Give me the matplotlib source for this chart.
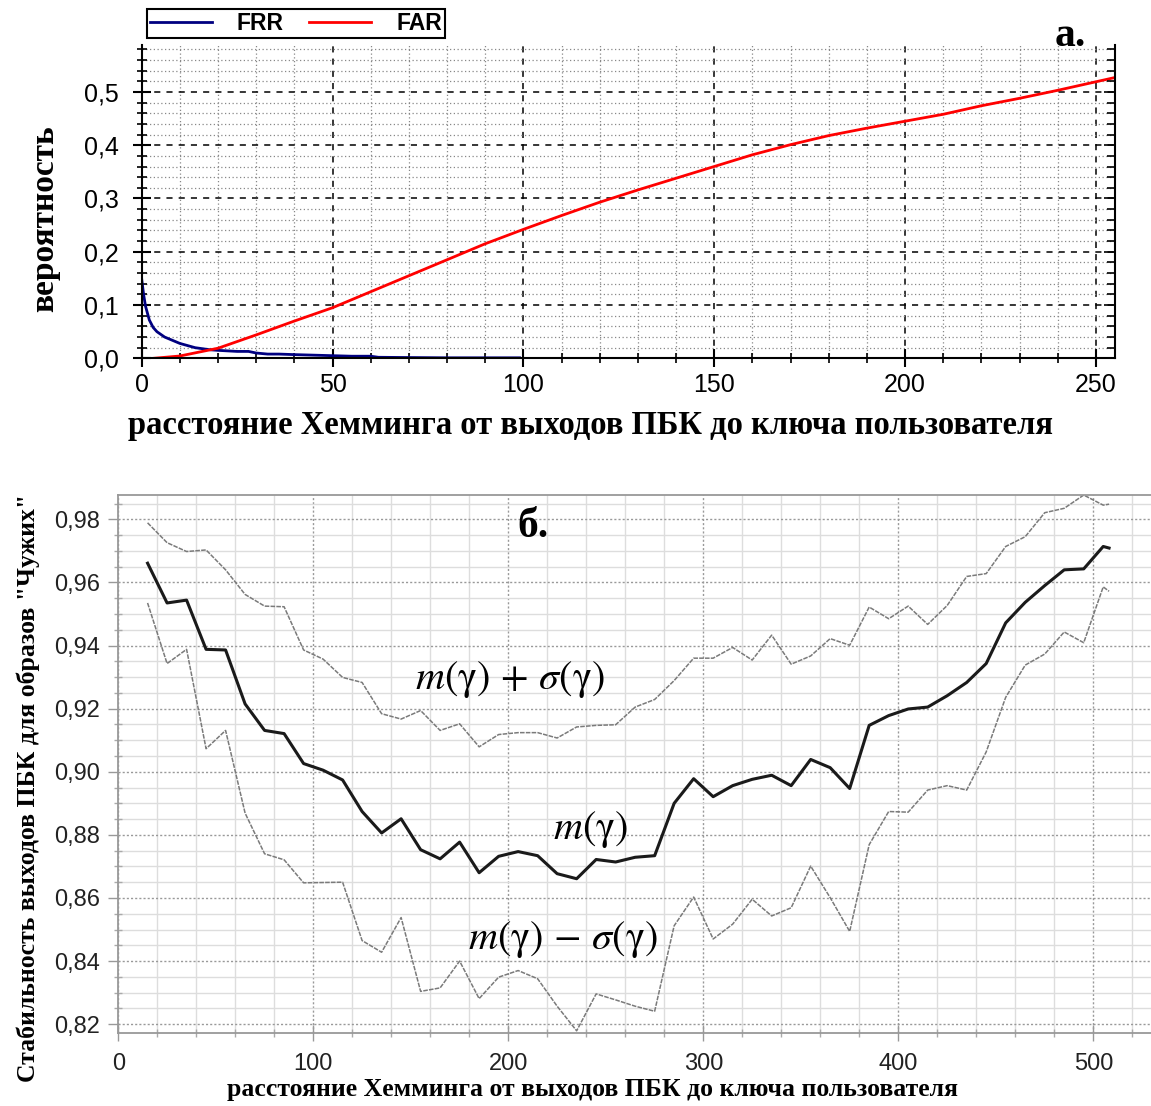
import matplotlib
matplotlib.use('Agg')
import matplotlib.pyplot as plt
from matplotlib.ticker import MultipleLocator, FuncFormatter

plt.rcParams['font.family'] = ['Liberation Sans', 'DejaVu Sans']
plt.rcParams['mathtext.fontset'] = 'stix'

# --- панель а: FRR / FAR ---
frr_x = [0, 0.5, 1, 2, 3, 4, 5, 6, 7, 8, 10, 12, 14, 16, 18, 20, 25, 28, 30, 33,
         36, 40, 45, 50, 55, 60, 62, 70, 80, 90, 99]
frr_y = [0.149, 0.12, 0.098, 0.072, 0.058, 0.05, 0.045, 0.040, 0.037, 0.034, 0.028,
         0.024, 0.020, 0.018, 0.016, 0.015, 0.013, 0.013, 0.010, 0.008, 0.008, 0.007,
         0.006, 0.005, 0.004, 0.004, 0.002, 0.0015, 0.001, 0.001, 0.001]

far_x = [3, 10, 20, 30, 40, 50, 60, 70, 80, 90, 100, 110, 120, 130, 140, 150, 160,
         170, 180, 190, 200, 210, 220, 230, 240, 250, 255]
far_y = [0.0, 0.0044, 0.019, 0.044, 0.070, 0.095, 0.125, 0.155, 0.185, 0.215, 0.242,
         0.268, 0.293, 0.316, 0.338, 0.360, 0.382, 0.401, 0.418, 0.432, 0.445, 0.458,
         0.474, 0.488, 0.503, 0.519, 0.527]

# --- панель б: стабильность выходов ПБК ---
dist = [15, 25, 35, 45, 55, 65, 75, 85, 95, 105, 115, 125, 135, 145, 155, 165, 175,
        185, 195, 205, 215, 225, 235, 245, 255, 265, 275, 285, 295, 305, 315, 325,
        335, 345, 355, 365, 375, 385, 395, 405, 415, 425, 435, 445, 455, 465, 475,
        485, 495, 505, 508]
m_gamma = [0.9661, 0.9535, 0.9544, 0.9388, 0.9386, 0.9215, 0.9131, 0.9121, 0.9026,
           0.9005, 0.8974, 0.8874, 0.8806, 0.8851, 0.8753, 0.8724, 0.8777, 0.8680,
           0.8732, 0.8747, 0.8734, 0.8677, 0.8661, 0.8722, 0.8714, 0.8729, 0.8734,
           0.8900, 0.8978, 0.8921, 0.8956, 0.8976, 0.8989, 0.8956, 0.9039, 0.9013,
           0.8947, 0.9147, 0.9178, 0.9199, 0.9205, 0.9241, 0.9283, 0.9343, 0.9472,
           0.9537, 0.9590, 0.9640, 0.9643, 0.9714, 0.9709]
m_plus_s = [0.9789, 0.9726, 0.9698, 0.9703, 0.9640, 0.9562, 0.9525, 0.9523, 0.9386,
            0.9357, 0.9299, 0.9283, 0.9184, 0.9167, 0.9194, 0.9131, 0.9152, 0.9079,
            0.9118, 0.9124, 0.9124, 0.9107, 0.9142, 0.9147, 0.9149, 0.9205, 0.9229,
            0.9289, 0.9360, 0.9360, 0.9394, 0.9354, 0.9433, 0.9341, 0.9367, 0.9422,
            0.9401, 0.9522, 0.9485, 0.9525, 0.9467, 0.9527, 0.9619, 0.9628, 0.9714,
            0.9745, 0.9821, 0.9835, 0.9877, 0.9845, 0.9848]
m_minus_s = [0.9535, 0.9343, 0.9388, 0.9073, 0.9131, 0.8869, 0.8740, 0.8721, 0.8648,
             0.8649, 0.8650, 0.8465, 0.8428, 0.8538, 0.8304, 0.8315, 0.8400, 0.8281,
             0.8349, 0.8370, 0.8344, 0.8257, 0.8179, 0.8296, 0.8277, 0.8257, 0.8241,
             0.8512, 0.8603, 0.8470, 0.8517, 0.8596, 0.8543, 0.8569, 0.8701, 0.8601,
             0.8494, 0.8769, 0.8874, 0.8872, 0.8942, 0.8956, 0.8942, 0.9063, 0.9236,
             0.9338, 0.9373, 0.9443, 0.9409, 0.9586, 0.9572]

xlabel = 'расстояние Хемминга от выходов ПБК до ключа пользователя'
serif_bold = dict(family=['Liberation Serif', 'DejaVu Serif'], fontweight='bold')


def comma(fmt):
    return FuncFormatter(lambda v, _: fmt.format(v).replace('.', ','))


fig = plt.figure(figsize=(11.51, 11.06), dpi=100)

# ---------------- а. ----------------
ax1 = fig.add_axes([0.1231, 0.676, 0.8456, 0.2833])
ax1.plot(frr_x, frr_y, color='#000080', lw=2, label='FRR')
ax1.plot(far_x, far_y, color='#ff0000', lw=2, label='FAR')
ax1.set_xlim(0, 255)
ax1.set_ylim(0, 0.588)
ax1.xaxis.set_major_locator(MultipleLocator(50))
ax1.xaxis.set_minor_locator(MultipleLocator(10))
ax1.yaxis.set_major_locator(MultipleLocator(0.1))
ax1.yaxis.set_minor_locator(MultipleLocator(0.02))
ax1.yaxis.set_major_formatter(comma('{:.1f}'))
ax1.grid(which='major', color='black', ls=(0, (4, 4)), lw=1.1)
ax1.grid(which='minor', color='#888888', ls=(0, (1, 2)), lw=0.9)
ax1.set_axisbelow(True)
ax1.spines['top'].set_visible(False)
for s in ('left', 'right', 'bottom'):
    ax1.spines[s].set_linewidth(1.5)
ax1.tick_params(which='major', direction='inout', length=13, width=1.5, labelsize=18)
ax1.tick_params(which='minor', direction='inout', length=7, width=1.2)
ax1.tick_params(axis='y', pad=10)
ax1.tick_params(axis='x', pad=4)

# засечки справа только внутрь
axr = ax1.twinx()
axr.set_ylim(ax1.get_ylim())
axr.yaxis.set_major_locator(MultipleLocator(0.1))
axr.yaxis.set_minor_locator(MultipleLocator(0.02))
axr.tick_params(which='both', direction='in', labelright=False, width=1.2)
axr.tick_params(which='major', length=8)
axr.tick_params(which='minor', length=6)
for s in axr.spines.values():
    s.set_visible(False)

ax1.set_ylabel('вероятность', fontsize=24, **serif_bold)
ax1.yaxis.set_label_coords(-0.0994, 0.445)
ax1.yaxis.label.set_va('center')
ax1.set_xlabel(xlabel, fontsize=23.5, **serif_bold)
ax1.xaxis.set_label_coords(0.4616, -0.213)
ax1.xaxis.label.set_va('center')
ax1.text(1070 / 1151, 1 - 36 / 1106, 'a.', transform=fig.transFigure,
         fontsize=30, ha='center', va='center', **serif_bold)
leg = ax1.legend(loc='upper left', bbox_to_anchor=(147 / 1151, 1 - 9 / 1106),
                 bbox_transform=fig.transFigure, ncol=2, fancybox=False,
                 edgecolor='black', framealpha=1, borderpad=0.12,
                 handlelength=2.7, columnspacing=1.1, handletextpad=1.1,
                 borderaxespad=0, prop=dict(weight='bold', size=16.5))
leg.get_frame().set_linewidth(1.5)

# ---------------- б. ----------------
ax2 = fig.add_axes([0.1028, 0.0657, 0.8972, 0.4867])
ax2.plot(dist, m_plus_s, color='#7a7a7a', lw=1.1, ls=(0, (3, 0.8)))
ax2.plot(dist, m_minus_s, color='#7a7a7a', lw=1.1, ls=(0, (3, 0.8)))
ax2.plot(dist, m_gamma, color='#1a1a1a', lw=2.2)
ax2.set_xlim(0, 529.5)
ax2.set_ylim(0.8171, 0.9877)
ax2.xaxis.set_major_locator(MultipleLocator(100))
ax2.xaxis.set_minor_locator(MultipleLocator(20))
ax2.yaxis.set_major_locator(MultipleLocator(0.02))
ax2.yaxis.set_minor_locator(MultipleLocator(0.005))
ax2.yaxis.set_major_formatter(comma('{:.2f}'))
ax2.grid(which='major', color='#999999', ls=(0, (1.5, 1.5)), lw=1.0)
ax2.grid(which='minor', color='#dddddd', ls='-', lw=1.0)
ax2.set_axisbelow(True)
ax2.spines['right'].set_visible(False)
for s in ('left', 'top', 'bottom'):
    ax2.spines[s].set_color('#999999')
    ax2.spines[s].set_linewidth(1.3)
ax2.tick_params(which='major', axis='y', direction='out', length=7, width=1,
                color='#999999', labelsize=17, labelcolor='#222222', pad=6)
ax2.tick_params(which='major', axis='x', direction='inout', length=12, width=1,
                color='#999999', labelsize=17, labelcolor='#222222', pad=8)
ax2.tick_params(which='minor', direction='inout', length=6, width=1, color='#aaaaaa')
ax2.set_ylabel('Стабильность выходов ПБК для образов "Чужих"', fontsize=18.5, **serif_bold)
ax2.yaxis.set_label_coords(-0.0874, 0.4566)
ax2.yaxis.label.set_va('center')
ax2.set_xlabel(xlabel, fontsize=18.5, **serif_bold)
ax2.xaxis.set_label_coords(0.4595, -0.105)
ax2.xaxis.label.set_va('center')

ax2.text(201, 0.9291, r'$m(\mathrm{\gamma})\,+\,\sigma(\mathrm{\gamma})$', fontsize=29,
         ha='center', va='center')
ax2.text(242, 0.8816, r'$m(\mathrm{\gamma})$', fontsize=29, ha='center', va='center')
ax2.text(228, 0.8468, r'$m(\mathrm{\gamma})\,-\,\sigma(\mathrm{\gamma})$', fontsize=29,
         ha='center', va='center')
ax2.text(533 / 1151, 1 - 527 / 1106, 'б.', transform=fig.transFigure,
         fontsize=30, ha='center', va='center', **serif_bold)

fig.savefig('out.png', dpi=100)
